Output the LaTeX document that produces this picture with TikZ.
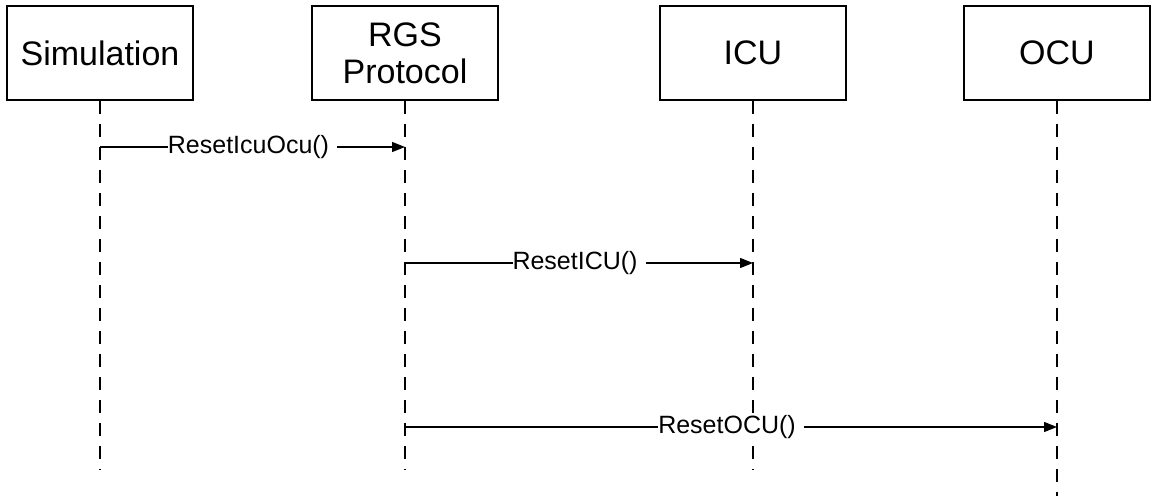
\documentclass[tikz,border=0pt]{standalone}
\usepackage{fontspec}
\setmainfont{Liberation Sans}
\usetikzlibrary{arrows.meta}
\newcommand{\msggap}[0] {\kern8pt}

\tikzset{
  actor/.style={shape=rectangle,draw=black,line width=1.6pt,minimum width=186pt,minimum height=94pt,align=center,font=\fontsize{34}{37}\selectfont},
  lifeline/.style={draw=black,line width=1.3pt,dash pattern=on 13pt off 10pt},
  msg/.style={draw=black,line width=1.3pt,-{Triangle[length=13pt,width=10pt]}},
  msglabel/.style={fill=white,inner xsep=0pt,inner ysep=1pt,font=\fontsize{25}{28}\selectfont}
}

\begin{document}
\begin{tikzpicture}[x=1pt,y=-1pt]
        \useasboundingbox (0,0) rectangle (1151,496);

        \node[actor] (sim) at (100, 53) {Simulation};
        \node[actor] (rgs) at (405, 53) {RGS\\Protocol};
        \node[actor] (icu) at (753, 53) {ICU};
        \node[actor] (ocu) at (1057, 53) {OCU};

        %lifelines
        \coordinate (simend) at (100, 470);
        \coordinate (rgsend) at (405, 470);
        \coordinate (icuend) at (753, 470);
        \coordinate (ocuend) at (1057, 496);
        \path[lifeline] (sim.south) -- (simend);
        \path[lifeline] (rgs.south) -- (rgsend);
        \path[lifeline] (icu.south) -- (icuend);
        \path[lifeline] (ocu.south) -- (ocuend);

        %messages
        \coordinate (m1a) at (100, 147);
        \coordinate (m1b) at (405, 147);
        \coordinate (m2a) at (405, 263);
        \coordinate (m2b) at (753, 263);
        \coordinate (m3a) at (405, 427);
        \coordinate (m3b) at (1057, 427);
        \path[msg] (m1a) -- node[msglabel] {ResetIcuOcu()\msggap} (m1b);
        \path[msg] (m2a) -- node[msglabel] {ResetICU()\msggap} (m2b);
        \path[msg] (m3a) -- node[msglabel] {ResetOCU()\msggap} (m3b);
\end{tikzpicture}
\end{document}
